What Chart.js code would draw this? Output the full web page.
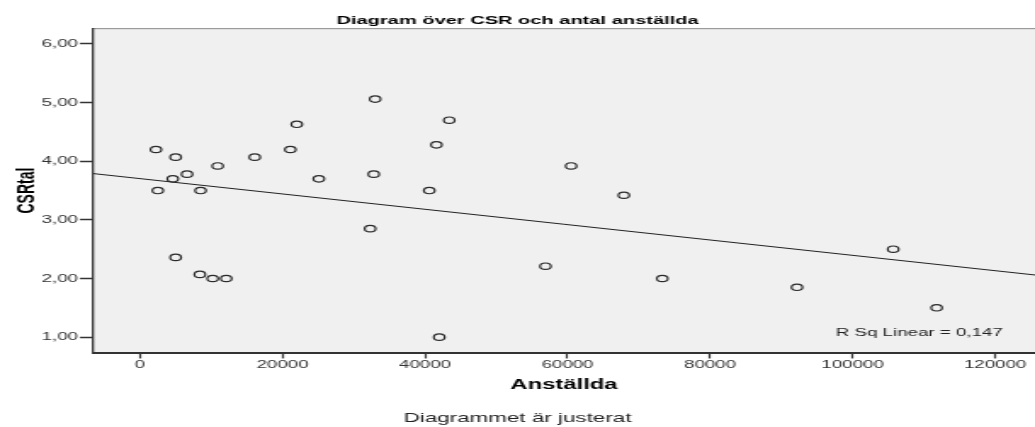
<!DOCTYPE html>
<html lang="sv">
<head>
  <meta charset="UTF-8">
  <title>Diagram över CSR och antal anställda</title>
  <script src="https://cdn.jsdelivr.net/npm/chart.js"></script>
  <style>
    body {
      margin: 0;
      background: #ffffff;
      overflow: hidden;
    }
    /* the original picture is stretched sideways: draw at 609 px wide, show at 1035 px */
    #myChart {
      display: block;
      width: 1035px;
      height: 427px;
    }
  </style>
</head>
<body>
  <canvas id="myChart" width="609" height="427" style="width:1035px;height:427px"></canvas>

  <script>
    // Anställda (x) and CSRtal (y), one entry per company
    const anstallda = [2240, 2500, 5000, 4600, 6600, 8500, 10900, 16100, 21100, 22000,
                       25100, 33000, 32800, 41600, 40600, 43400, 60500, 67900, 32300, 5000,
                       8400, 10200, 12100, 42000, 56900, 73300, 92200, 105700, 111800];
    const csrTal = [4.20, 3.50, 4.07, 3.70, 3.78, 3.50, 3.92, 4.07, 4.20, 4.63,
                    3.70, 5.06, 3.78, 4.28, 3.50, 4.70, 3.92, 3.42, 2.85, 2.36,
                    2.07, 2.00, 2.00, 1.00, 2.21, 2.00, 1.85, 2.50, 1.50];

    // fit line as read at the two edges of the plot
    const fitX = [-6600, 125600];
    const fitY = [3.79, 2.06];
    const rSquared = '0,147';

    const xTicks = [0, 20000, 40000, 60000, 80000, 100000, 120000];
    const xTickLabels = ['0', '20000', '40000', '60000', '80000', '100000', '120000'];
    const yTicks = [1, 2, 3, 4, 5, 6];
    const yTickLabels = ['1,00', '2,00', '3,00', '4,00', '5,00', '6,00'];

    const font = 'Liberation Sans, Arial, sans-serif';

    const plotBackground = {
      id: 'plotBackground',
      beforeDraw(chart) {
        const { ctx, chartArea: a } = chart;
        ctx.save();
        ctx.fillStyle = '#f0f0f0';
        ctx.fillRect(a.left, a.top, a.right - a.left, a.bottom - a.top);
        ctx.strokeStyle = '#8a8a8a';
        ctx.lineWidth = 1;
        ctx.beginPath();
        ctx.moveTo(a.left, a.top + 0.5);
        ctx.lineTo(a.right, a.top + 0.5);
        ctx.stroke();
        ctx.restore();
      }
    };

    const rsqLabel = {
      id: 'rsqLabel',
      afterDatasetsDraw(chart) {
        const { ctx, chartArea: a } = chart;
        ctx.save();
        ctx.font = '11px ' + font;
        ctx.fillStyle = '#222';
        ctx.textAlign = 'right';
        ctx.textBaseline = 'middle';
        ctx.fillText('R Sq Linear = ' + rSquared, a.right - 19, a.bottom - 19.5);
        ctx.restore();
      }
    };

    const ctx = document.getElementById('myChart').getContext('2d');
    const myChart = new Chart(ctx, {
      data: {
        datasets: [{
          type: 'scatter',
          label: 'CSRtal',
          data: anstallda.map((x, i) => ({ x: x, y: csrTal[i] })),
          pointStyle: 'circle',
          pointRadius: 3.2,
          pointBorderWidth: 1.2,
          pointBorderColor: '#2a2a2a',
          pointBackgroundColor: 'rgba(0,0,0,0)',
          order: 1
        },
        {
          type: 'line',
          label: 'Fit',
          data: fitX.map((x, i) => ({ x: x, y: fitY[i] })),
          borderColor: '#222',
          borderWidth: 1,
          pointRadius: 0,
          fill: false,
          order: 2
        }]
      },
      options: {
        responsive: false,
        animation: false,
        events: [],
        layout: { padding: 0, autoPadding: false },
        plugins: {
          legend: { display: false },
          tooltip: { enabled: false },
          title: {
            display: true,
            text: 'Diagram över CSR och antal anställda',
            color: '#000',
            font: { family: font, size: 11.8, weight: 'bold' },
            padding: { top: 14, bottom: 0 }
          },
          subtitle: {
            display: true,
            position: 'bottom',
            text: 'Diagrammet är justerat',
            color: '#222',
            font: { family: font, size: 13.2 },
            padding: { top: 0, bottom: 0.6 }
          }
        },
        scales: {
          x: {
            type: 'linear',
            min: -6600,
            max: 125600,
            afterBuildTicks: (scale) => { scale.ticks = xTicks.map(v => ({ value: v })); },
            afterFit: (scale) => {
              scale.height = 57.6;
              scale.paddingLeft = 0;
              scale.paddingRight = 0;
            },
            ticks: {
              color: '#333',
              font: { family: font, size: 11 },
              padding: 0.4,
              maxRotation: 0,
              autoSkip: false,
              callback: (v) => xTickLabels[xTicks.indexOf(v)]
            },
            grid: {
              drawOnChartArea: false,
              drawTicks: true,
              tickLength: 5.5,
              tickWidth: 1.2,
              tickColor: '#333'
            },
            border: { display: true, color: '#333', width: 2 },
            title: {
              display: true,
              text: 'Anställda',
              color: '#000',
              font: { family: font, size: 14, weight: 'bold' },
              padding: { top: 17.2, bottom: 17.2 }
            }
          },
          y: {
            type: 'linear',
            min: 0.73,
            max: 6.27,
            afterBuildTicks: (scale) => { scale.ticks = yTicks.map(v => ({ value: v })); },
            afterFit: (scale) => { scale.width = 54.7; },
            ticks: {
              color: '#333',
              font: { family: font, size: 11 },
              padding: 1.1,
              autoSkip: false,
              callback: (v) => yTickLabels[yTicks.indexOf(v)]
            },
            grid: {
              drawOnChartArea: false,
              drawTicks: true,
              tickLength: 7.7,
              tickWidth: 1.5,
              tickColor: '#333'
            },
            border: { display: true, color: '#333', width: 1.3 },
            title: {
              display: true,
              text: 'CSRtal',
              color: '#000',
              font: { family: font, size: 14, weight: 'bold' },
              padding: { top: 8, bottom: 0 }
            }
          }
        }
      },
      plugins: [plotBackground, rsqLabel]
    });
  </script>
</body>
</html>
